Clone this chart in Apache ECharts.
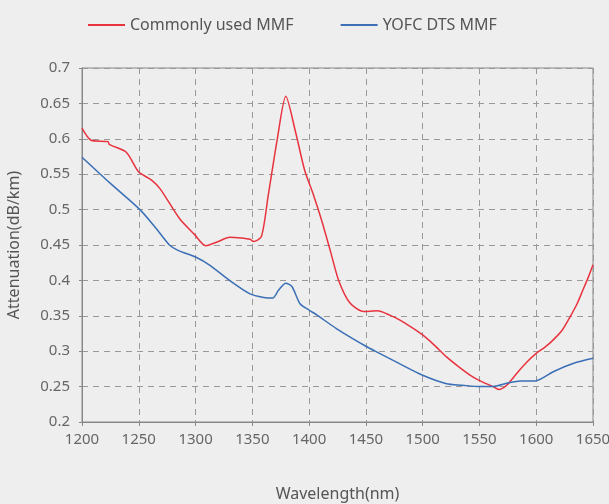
<!DOCTYPE html>
<html><head><meta charset="utf-8">
<script src="https://cdn.jsdelivr.net/npm/echarts@6/dist/echarts.min.js"></script>
<style>html,body{margin:0;padding:0;background:#eeeeee}#c{width:609px;height:504px}</style>
</head><body><div id="c"></div>
<script>
const seriesNames = ['Commonly used MMF', 'YOFC DTS MMF'];
const xTicks = [1200,1250,1300,1350,1400,1450,1500,1550,1600,1650];
const yTicks = [0.2,0.25,0.3,0.35,0.4,0.45,0.5,0.55,0.6,0.65,0.7];
const commonWl = [1200,1208,1223,1224,1239,1250,1261,1269,1286,1299,1309,1320,1330,1340,1348,1351,1358,1364,1372,1379.5,1388,1396,1404,1411,1419,1426,1436,1448,1460,1471,1480,1490,1500,1510,1521,1531,1542,1552,1562,1567,1574,1583,1592,1600,1608,1615,1623,1630,1636,1641,1646,1650];
const commonAtt = [0.615,0.598,0.596,0.592,0.581,0.553,0.542,0.529,0.487,0.465,0.449,0.455,0.461,0.460,0.458,0.455,0.462,0.52,0.60,0.660,0.61,0.556,0.52,0.485,0.44,0.40,0.368,0.356,0.357,0.351,0.344,0.334,0.323,0.309,0.292,0.279,0.266,0.257,0.250,0.246,0.252,0.269,0.285,0.297,0.306,0.316,0.330,0.349,0.367,0.386,0.405,0.422];
const yofcWl = [1200,1225,1251,1265,1277,1285,1300,1313,1330,1348,1360,1368,1373,1379.5,1385,1392,1400,1407,1424,1450,1462,1480,1500,1521,1535,1550,1562,1574,1586,1599,1615,1633,1650];
const yofcAtt = [0.574,0.537,0.500,0.474,0.450,0.442,0.433,0.421,0.400,0.381,0.376,0.375,0.386,0.396,0.391,0.367,0.358,0.351,0.332,0.307,0.297,0.282,0.266,0.254,0.252,0.250,0.250,0.2546,0.258,0.258,0.271,0.283,0.290];

const chart = echarts.init(document.getElementById('c'), null, {renderer:'canvas'});
const font = '"Noto Sans", sans-serif';
chart.setOption({
  backgroundColor: '#eeeeee',
  animation: false,
  legend: {
    left: 83, top: 12,
    itemWidth: 37, itemHeight: 10, itemGap: 47,
    textStyle: {fontFamily: font, fontSize: 16, color: '#555'},
    data: seriesNames.map(n => ({name: n, icon: 'path://M0,4L37,4L37,6L0,6Z'}))
  },
  grid: {left: 82, right: 16, top: 68, bottom: 82, outerBoundsMode: 'none', containLabel: false,
    show: true, borderColor: '#888', borderWidth: 1, backgroundColor: 'transparent'},
  xAxis: {
    type: 'value', min: 1200, max: 1650, interval: 50,
    name: 'Wavelength(nm)', nameLocation: 'middle', nameGap: 64,
    nameTextStyle: {fontFamily: font, fontSize: 16, color: '#555'},
    axisLine: {lineStyle: {color: '#888'}},
    axisTick: {show: true, length: 4, lineStyle: {color: '#888'}},
    axisLabel: {fontFamily: font, fontSize: 15, color: '#666', margin: 10, formatter: v => String(v)},
    splitLine: {show: true, lineStyle: {color: '#999', type: [6,5]}}
  },
  yAxis: {
    type: 'value', min: 0.2, max: 0.7, interval: 0.05,
    name: 'Attenuation(dB/km)', nameLocation: 'middle', nameGap: 60,
    nameTextStyle: {fontFamily: font, fontSize: 16, color: '#555'},
    axisLine: {show: true, lineStyle: {color: '#888'}},
    axisTick: {show: true, length: 3, lineStyle: {color: '#888'}},
    axisLabel: {fontFamily: font, fontSize: 15, color: '#666', margin: 12,
      formatter: v => String(Math.round(v*100)/100)},
    splitLine: {show: true, lineStyle: {color: '#999', type: [6,5]}}
  },
  series: [
    {name: seriesNames[0], type: 'line', showSymbol: false, smooth: 0.25,
     lineStyle: {color: '#e8333f', width: 1.5}, itemStyle: {color: '#e8333f'},
     data: commonWl.map((x,i) => [x, commonAtt[i]])},
    {name: seriesNames[1], type: 'line', showSymbol: false, smooth: 0.25,
     lineStyle: {color: '#3b6fb6', width: 1.5}, itemStyle: {color: '#3b6fb6'},
     data: yofcWl.map((x,i) => [x, yofcAtt[i]])}
  ]
});
</script></body></html>
